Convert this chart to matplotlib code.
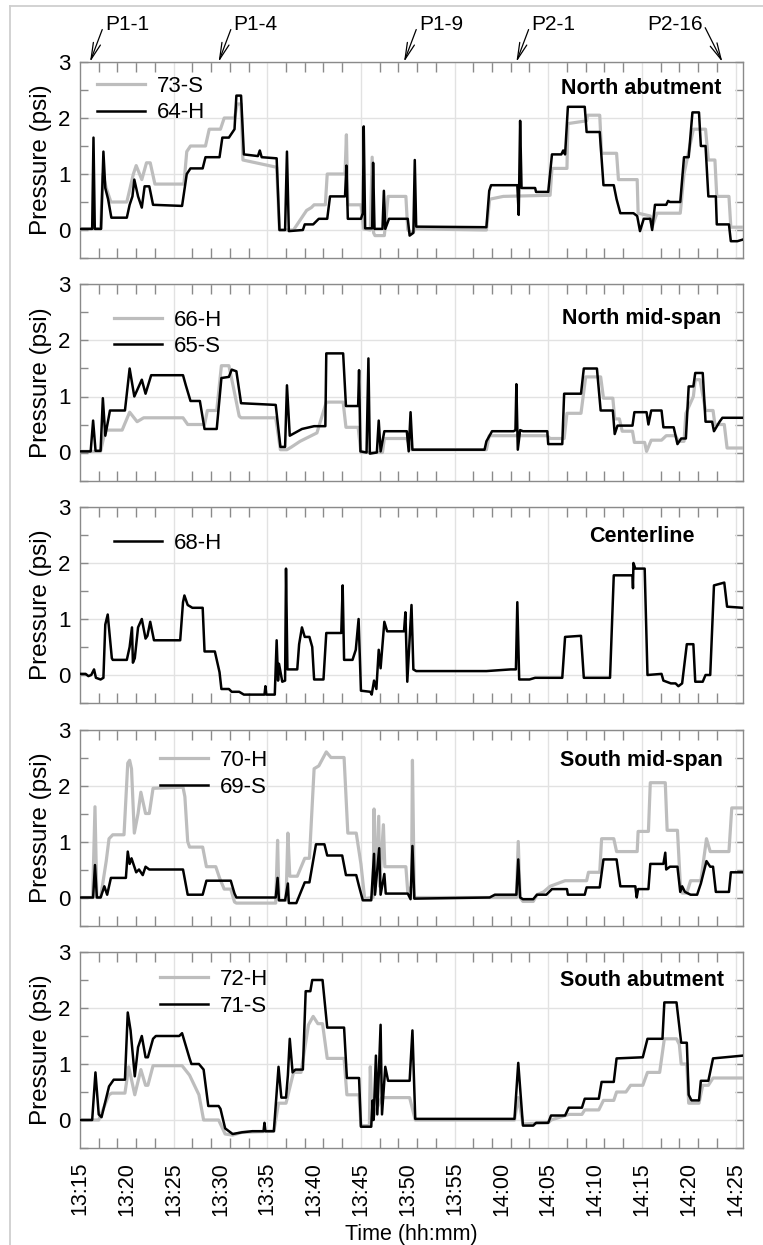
import matplotlib
matplotlib.use("Agg")
import matplotlib.pyplot as plt
from matplotlib.lines import Line2D
from matplotlib.ticker import MultipleLocator

plt.rcParams['font.family'] = ['Liberation Sans', 'DejaVu Sans']

# time in minutes after 13:15, pressure in psi
# North abutment
na_73s = [(0, 0.02), (2.2, 0.02), (2.45, 1.0), (2.8, 0.75), (3.3, 0.5), (5.0, 0.5), (5.7, 1.0), (6.0, 1.15),
          (6.6, 0.9), (7.1, 1.2), (7.5, 1.2), (8.0, 0.82), (11.1, 0.82), (11.4, 1.4), (11.8, 1.5), (13.4, 1.5),
          (13.8, 1.8), (15.0, 1.8), (15.4, 2.0), (16.5, 2.0), (16.8, 2.25), (17.2, 2.25), (17.4, 1.25),
          (21.0, 1.12), (21.3, 0.0), (22.8, 0.0), (23.2, 0.1), (24.2, 0.35), (24.7, 0.4), (25.0, 0.45),
          (26.2, 0.45), (26.4, 1.0), (28.3, 1.0), (28.45, 1.7), (28.6, 0.45), (30.0, 0.45), (30.3, 0.02),
          (31.0, 0.0), (31.2, 1.3), (31.35, -0.05), (31.5, -0.1), (32.5, -0.1), (32.9, 0.6), (34.8, 0.6),
          (35.0, 0.0), (35.5, -0.05), (35.8, 0.02), (43.4, 0.0), (43.75, 0.55), (45.2, 0.6), (50.2, 0.62),
          (50.4, 1.1), (52.0, 1.1), (52.1, 1.9), (54.1, 1.95), (54.2, 2.05), (55.5, 2.05), (55.7, 1.37),
          (57.3, 1.37), (57.5, 0.9), (59.5, 0.9), (59.6, 0.3), (60.9, 0.25), (61.1, 0.05), (61.6, 0.3),
          (64.1, 0.3), (64.5, 1.0), (65.5, 1.8), (66.8, 1.8), (67.1, 1.25), (67.8, 1.25), (68.0, 0.6),
          (69.3, 0.6), (69.5, 0.05), (70.8, 0.05)]
na_64h = [(0, 0.02), (1.3, 0.02), (1.44, 1.65), (1.58, 0.02), (2.25, 0.02), (2.5, 1.4), (2.7, 0.75),
          (3.0, 0.55), (3.35, 0.22), (5.0, 0.22), (5.3, 0.45), (5.6, 0.6), (5.8, 0.9), (6.2, 0.6), (6.6, 0.4),
          (6.9, 0.78), (7.4, 0.78), (7.8, 0.45), (10.9, 0.43), (11.4, 1.0), (11.8, 1.1), (13.1, 1.1),
          (13.4, 1.3), (14.9, 1.3), (15.2, 1.65), (15.9, 1.65), (16.5, 1.8), (16.7, 2.4), (17.2, 2.4),
          (17.5, 1.35), (19.0, 1.32), (19.2, 1.42), (19.4, 1.3), (21.0, 1.28), (21.3, 0.0), (21.9, 0.0),
          (22.1, 1.4), (22.3, -0.02), (23.8, 0.0), (24.0, 0.1), (24.9, 0.1), (25.5, 0.2), (26.4, 0.2),
          (26.7, 0.6), (28.3, 0.6), (28.45, 1.15), (28.6, 0.2), (30.0, 0.2), (30.2, 0.3), (30.3, 1.85),
          (30.45, 0.03), (31.2, 0.03), (31.3, 1.2), (31.45, 0.02), (32.3, 0.02), (32.45, 0.7), (32.6, 0.02),
          (33.0, 0.2), (35.0, 0.2), (35.2, -0.1), (35.6, -0.05), (35.75, 1.25), (35.9, 0.06), (43.4, 0.05),
          (43.7, 0.7), (43.9, 0.8), (46.7, 0.8), (46.85, 0.27), (47.0, 1.95), (47.15, 0.75), (48.6, 0.75),
          (48.7, 0.68), (50.0, 0.68), (50.4, 1.35), (51.4, 1.35), (51.6, 1.42), (51.8, 1.35), (52.1, 2.2),
          (53.9, 2.2), (54.1, 1.75), (55.5, 1.75), (55.9, 0.8), (57.0, 0.8), (57.3, 0.55), (57.7, 0.3),
          (59.1, 0.3), (59.5, 0.25), (59.8, -0.02), (60.2, 0.2), (60.9, 0.2), (61.1, 0.0), (61.4, 0.45),
          (62.6, 0.45), (62.8, 0.52), (63.0, 0.5), (64.1, 0.5), (64.5, 1.3), (65.0, 1.3), (65.4, 2.1),
          (66.1, 2.1), (66.3, 1.5), (66.8, 1.5), (67.1, 0.6), (67.9, 0.6), (68.0, 0.1), (69.3, 0.1),
          (69.5, -0.2), (70.2, -0.2), (70.8, -0.17)]

# North mid-span
nm_66h = [(0, 0.02), (2.2, 0.02), (2.7, 0.4), (4.5, 0.4), (5.3, 0.72), (6.1, 0.55), (6.8, 0.62), (11.0, 0.62),
          (11.5, 0.5), (13.3, 0.5), (13.6, 0.75), (14.6, 0.75), (15.1, 1.55), (15.9, 1.55), (16.4, 1.15),
          (17.0, 0.65), (17.2, 0.62), (20.9, 0.62), (21.4, 0.05), (22.1, 0.05), (22.6, 0.1), (23.5, 0.2),
          (25.3, 0.35), (26.3, 0.9), (28.1, 0.9), (28.4, 0.45), (29.7, 0.45), (30.0, 0.0), (32.3, 0.0),
          (32.5, 0.25), (34.9, 0.25), (35.4, 0.05), (43.4, 0.05), (43.7, 0.3), (49.9, 0.3), (50.2, 0.25),
          (51.7, 0.25), (52.0, 0.7), (53.5, 0.7), (54.0, 1.35), (55.6, 1.35), (55.9, 0.97), (56.9, 0.97),
          (57.1, 0.6), (57.6, 0.6), (57.9, 0.38), (59.0, 0.38), (59.2, 0.18), (60.3, 0.18), (60.5, 0.02),
          (61.0, 0.22), (62.1, 0.22), (62.6, 0.3), (63.6, 0.3), (63.9, 0.2), (64.5, 0.2), (64.7, 0.7),
          (65.5, 1.0), (65.7, 1.3), (66.2, 1.3), (66.8, 0.75), (67.6, 0.75), (67.8, 0.5), (68.8, 0.5),
          (69.1, 0.08), (70.8, 0.08)]
nm_65s = [(0, 0.02), (1.14, 0.02), (1.4, 0.57), (1.66, 0.03), (2.2, 0.03), (2.44, 0.97), (2.7, 0.3),
          (3.2, 0.75), (4.8, 0.75), (5.3, 1.5), (5.8, 1.0), (6.6, 1.3), (7.0, 1.05), (7.6, 1.38), (11.0, 1.38),
          (11.3, 1.2), (11.8, 0.92), (12.8, 0.92), (13.3, 0.42), (14.6, 0.42), (15.1, 1.33), (15.9, 1.35),
          (16.2, 1.48), (16.7, 1.45), (17.2, 0.88), (20.9, 0.85), (21.4, 0.1), (21.9, 0.1), (22.1, 1.2),
          (22.4, 0.3), (23.7, 0.42), (25.0, 0.47), (26.2, 0.47), (26.3, 1.77), (28.1, 1.77), (28.4, 0.83),
          (29.7, 0.83), (29.8, 1.47), (29.95, 0.02), (30.6, 0.0), (30.8, 1.68), (30.95, -0.02), (31.7, 0.0),
          (31.9, 0.57), (32.1, 0.02), (32.5, 0.38), (34.9, 0.38), (35.1, 0.02), (35.3, 0.72), (35.5, 0.05),
          (43.2, 0.05), (43.4, 0.2), (44.0, 0.38), (46.3, 0.38), (46.5, 0.4), (46.6, 1.22), (46.75, 0.05),
          (47.0, 0.4), (47.3, 0.38), (49.9, 0.38), (50.0, 0.15), (51.5, 0.15), (51.7, 1.05), (53.5, 1.05),
          (53.8, 1.5), (55.2, 1.5), (55.6, 0.75), (56.9, 0.75), (57.1, 0.33), (57.4, 0.48), (59.0, 0.48),
          (59.2, 0.72), (60.5, 0.72), (60.7, 0.5), (61.0, 0.75), (62.1, 0.75), (62.3, 0.45), (63.4, 0.45),
          (63.8, 0.15), (64.2, 0.25), (64.7, 0.25), (65.0, 1.18), (65.5, 1.18), (65.7, 1.42), (66.5, 1.42),
          (66.8, 0.55), (67.5, 0.55), (67.7, 0.38), (68.3, 0.55), (68.6, 0.62), (70.8, 0.62)]

# Centerline
cl_68h = [(0, 0.02), (0.6, 0.02), (0.9, -0.02), (1.2, 0.0), (1.5, 0.1), (1.7, -0.05), (2.2, -0.08),
          (2.5, -0.05), (2.7, 0.9), (2.96, 1.08), (3.4, 0.3), (3.5, 0.27), (5.0, 0.27), (5.3, 0.5),
          (5.55, 0.85), (5.65, 0.22), (5.85, 0.3), (6.2, 0.85), (6.6, 1.0), (7.0, 0.65), (7.2, 0.7),
          (7.5, 0.95), (7.9, 0.62), (10.7, 0.62), (11.0, 1.3), (11.15, 1.42), (11.5, 1.25), (12.0, 1.2),
          (13.1, 1.2), (13.3, 0.42), (14.4, 0.42), (14.9, 0.05), (15.1, -0.25), (15.9, -0.25), (16.2, -0.3),
          (17.0, -0.3), (17.5, -0.35), (19.7, -0.35), (19.8, -0.2), (19.9, -0.35), (20.8, -0.35),
          (21.0, 0.62), (21.15, -0.1), (21.25, 0.2), (21.6, -0.12), (21.9, -0.1), (22.0, 1.9), (22.15, 0.1),
          (23.2, 0.1), (23.4, 0.55), (23.7, 0.85), (24.0, 0.68), (24.5, 0.68), (24.8, 0.5), (25.0, -0.08),
          (26.0, -0.08), (26.3, 0.75), (27.9, 0.75), (28.05, 1.6), (28.2, 0.27), (29.1, 0.27), (29.45, 0.45),
          (29.75, 1.0), (30.0, -0.28), (31.0, -0.3), (31.15, -0.35), (31.4, -0.1), (31.65, -0.25),
          (31.9, 0.45), (32.1, 0.12), (32.5, 0.95), (32.8, 0.78), (34.6, 0.78), (34.75, 1.12),
          (34.95, -0.12), (35.4, 1.25), (35.6, 0.1), (35.9, 0.07), (43.4, 0.07), (46.0, 0.1), (46.55, 0.1),
          (46.7, 1.3), (46.9, -0.08), (48.0, -0.08), (48.6, -0.05), (51.5, -0.05), (51.8, 0.68), (53.5, 0.7),
          (53.8, -0.05), (56.6, -0.05), (57.0, 1.78), (59.0, 1.78), (59.05, 1.55), (59.1, 2.0), (59.3, 1.9),
          (60.3, 1.9), (60.6, 0.0), (62.1, 0.02), (62.3, -0.1), (63.1, -0.15), (63.6, -0.15), (63.9, -0.2),
          (64.3, -0.15), (64.8, 0.55), (65.5, 0.55), (65.7, -0.12), (66.5, -0.12), (66.8, 0.0), (67.3, 0.0),
          (67.7, 1.6), (68.8, 1.65), (69.1, 1.22), (70.8, 1.2)]

# South mid-span
sm_70h = [(0, 0.0), (1.35, 0.0), (1.6, 1.62), (1.8, 0.0), (2.2, 0.0), (2.8, 0.65), (3.1, 1.05), (3.5, 1.12),
          (4.7, 1.12), (5.1, 2.4), (5.3, 2.45), (5.5, 2.3), (5.8, 1.15), (6.2, 1.5), (6.5, 1.88), (7.0, 1.5),
          (7.4, 1.5), (7.8, 1.95), (11.0, 1.97), (11.2, 1.8), (11.5, 1.0), (11.7, 0.9), (13.1, 0.9),
          (13.5, 0.55), (14.5, 0.55), (14.9, 0.35), (15.4, 0.15), (16.1, 0.15), (16.5, -0.08), (16.7, -0.1),
          (20.9, -0.1), (21.1, 1.02), (21.25, -0.05), (22.0, -0.05), (22.2, 1.15), (22.4, 0.38),
          (23.2, 0.38), (24.0, 0.7), (24.5, 0.7), (25.0, 2.3), (25.5, 2.35), (26.3, 2.6), (26.8, 2.5),
          (28.2, 2.5), (28.6, 1.15), (29.5, 1.15), (30.0, 0.6), (30.4, -0.02), (31.3, 0.0), (31.4, 1.58),
          (31.5, 0.1), (31.9, 1.45), (32.0, 0.2), (32.4, 1.3), (32.55, 0.55), (34.8, 0.55), (35.0, 0.1),
          (35.4, 0.2), (35.5, 2.45), (35.7, 0.0), (46.6, 0.0), (46.8, 1.0), (47.0, 0.0), (47.3, -0.07),
          (48.4, -0.07), (48.8, 0.05), (49.5, 0.1), (50.2, 0.2), (51.8, 0.3), (54.1, 0.3), (54.3, 0.45),
          (55.5, 0.45), (55.7, 1.05), (57.0, 1.05), (57.3, 0.82), (59.5, 0.82), (59.6, 1.18), (60.7, 1.18),
          (60.9, 2.05), (62.5, 2.05), (62.7, 1.2), (63.8, 1.2), (64.1, 0.25), (64.3, 0.08), (64.8, 0.08),
          (65.2, 0.3), (66.3, 0.3), (66.9, 1.05), (67.3, 0.82), (69.3, 0.82), (69.6, 1.6), (70.8, 1.6)]
sm_69s = [(0, 0.0), (1.4, 0.0), (1.6, 0.58), (1.8, 0.0), (2.2, 0.0), (2.6, 0.2), (2.9, 0.05), (3.3, 0.35),
          (4.9, 0.35), (5.1, 0.82), (5.3, 0.6), (5.5, 0.7), (6.0, 0.45), (6.3, 0.5), (6.7, 0.4), (7.0, 0.55),
          (7.4, 0.5), (11.0, 0.5), (11.5, 0.05), (13.1, 0.05), (13.5, 0.3), (16.1, 0.3), (16.5, 0.07),
          (16.7, 0.0), (20.9, 0.0), (21.1, 0.35), (21.25, -0.05), (21.9, -0.05), (22.2, 0.25), (22.3, -0.1),
          (23.1, -0.1), (24.0, 0.27), (24.5, 0.27), (25.2, 0.95), (26.1, 0.95), (26.4, 0.75), (28.0, 0.75),
          (28.4, 0.4), (29.5, 0.4), (29.8, 0.2), (30.2, -0.05), (31.1, -0.05), (31.4, 0.78), (31.5, 0.05),
          (31.95, 0.88), (32.1, 0.05), (32.5, 0.42), (32.65, 0.07), (35.0, 0.07), (35.3, -0.03),
          (35.5, 0.92), (35.7, -0.02), (43.75, 0.0), (44.3, 0.05), (46.6, 0.05), (46.8, 0.68), (47.0, 0.0),
          (47.3, -0.03), (48.4, -0.03), (48.8, 0.05), (49.8, 0.05), (50.4, 0.15), (52.0, 0.15), (52.1, 0.05),
          (53.9, 0.05), (54.1, 0.18), (55.5, 0.18), (55.9, 0.68), (57.3, 0.68), (57.7, 0.2), (59.3, 0.2),
          (59.45, 0.0), (59.6, 0.15), (60.7, 0.15), (60.9, 0.6), (62.3, 0.6), (62.5, 0.8), (62.6, 0.5),
          (63.0, 0.55), (63.8, 0.55), (64.1, 0.1), (64.3, 0.2), (64.6, 0.1), (65.2, 0.05), (65.9, 0.05),
          (66.3, 0.25), (66.9, 0.65), (67.3, 0.55), (67.6, 0.55), (67.9, 0.1), (69.3, 0.1), (69.5, 0.45),
          (70.8, 0.45)]

# South abutment
sa_72h = [(0, 0.0), (2.0, 0.0), (3.1, 0.45), (3.4, 0.48), (4.8, 0.48), (5.2, 0.95), (5.85, 0.45), (6.5, 0.9),
          (7.0, 0.62), (7.25, 0.62), (7.8, 0.97), (10.9, 0.97), (11.7, 0.8), (12.7, 0.45), (13.2, 0.0),
          (14.8, 0.0), (15.5, -0.25), (16.3, -0.27), (17.3, -0.22), (20.7, -0.2), (21.2, 0.3), (22.0, 0.3),
          (22.8, 0.85), (23.6, 0.85), (24.4, 1.7), (24.9, 1.85), (25.4, 1.72), (25.9, 1.72), (26.4, 1.1),
          (28.2, 1.1), (28.5, 0.45), (29.8, 0.45), (30.0, -0.1), (30.9, -0.1), (31.0, 0.95), (31.2, 0.0),
          (32.2, 0.4), (35.2, 0.4), (35.8, 0.0), (46.4, 0.0), (46.8, 0.4), (47.3, -0.07), (50.0, -0.05),
          (50.3, 0.0), (52.2, 0.1), (53.6, 0.1), (53.9, 0.18), (55.4, 0.18), (55.9, 0.35), (57.0, 0.35),
          (57.3, 0.5), (58.3, 0.5), (58.8, 0.62), (60.1, 0.62), (60.6, 0.85), (61.9, 0.85), (62.4, 1.45),
          (63.7, 1.45), (64.0, 1.35), (64.2, 1.0), (64.8, 1.0), (65.0, 0.3), (66.1, 0.3), (66.5, 0.62),
          (67.1, 0.62), (67.6, 0.75), (70.8, 0.75)]
sa_71s = [(0, 0.0), (1.3, 0.0), (1.65, 0.85), (2.0, 0.1), (2.3, 0.05), (3.1, 0.6), (3.6, 0.72), (4.8, 0.72),
          (5.1, 1.92), (5.4, 1.6), (5.85, 0.78), (6.2, 1.3), (6.6, 1.5), (7.0, 1.12), (7.25, 1.12),
          (7.8, 1.45), (8.1, 1.5), (10.6, 1.5), (10.9, 1.55), (11.7, 1.1), (11.9, 1.0), (12.7, 1.0),
          (13.2, 0.9), (13.7, 0.25), (14.8, 0.25), (15.0, 0.2), (15.5, -0.15), (16.3, -0.25), (17.3, -0.22),
          (18.4, -0.2), (19.6, -0.2), (19.7, -0.05), (19.8, -0.2), (20.7, -0.2), (21.2, 0.95), (21.5, 0.4),
          (22.0, 0.4), (22.2, 0.8), (22.4, 1.45), (22.7, 0.85), (23.0, 0.9), (23.8, 0.9), (24.1, 2.3),
          (24.6, 2.3), (24.8, 2.5), (25.9, 2.5), (26.4, 1.65), (28.2, 1.65), (28.5, 0.75), (29.8, 0.75),
          (30.0, -0.12), (31.1, -0.12), (31.25, 0.35), (31.35, 0.0), (31.6, 1.15), (31.75, 0.1),
          (32.1, 1.7), (32.25, 0.1), (32.6, 0.95), (32.9, 0.7), (35.2, 0.7), (35.5, 1.6), (35.8, 0.02),
          (46.4, 0.02), (46.8, 1.02), (47.3, -0.1), (48.4, -0.1), (48.7, -0.05), (50.0, -0.05), (50.3, 0.08),
          (51.8, 0.08), (52.2, 0.22), (53.6, 0.22), (53.9, 0.38), (55.4, 0.38), (55.7, 0.68), (57.0, 0.68),
          (57.3, 1.1), (60.1, 1.12), (60.6, 1.45), (62.2, 1.45), (62.4, 2.1), (63.7, 2.1), (64.2, 1.38),
          (64.8, 1.38), (65.0, 0.45), (65.3, 0.35), (66.1, 0.35), (66.3, 0.7), (67.1, 0.7), (67.6, 1.1),
          (70.8, 1.15)]

panel_titles = ['North abutment', 'North mid-span', 'Centerline', 'South mid-span', 'South abutment']
panel_gray = [('73-S', na_73s), ('66-H', nm_66h), None, ('70-H', sm_70h), ('72-H', sa_72h)]
panel_black = [('64-H', na_64h), ('65-S', nm_65s), ('68-H', cl_68h), ('69-S', sm_69s), ('71-S', sa_71s)]

time_labels = ['13:15', '13:20', '13:25', '13:30', '13:35', '13:40', '13:45', '13:50', '13:55',
               '14:00', '14:05', '14:10', '14:15', '14:20', '14:25']
events = ['P1-1', 'P1-4', 'P1-9', 'P2-1', 'P2-16']
event_times = [1.07, 14.8, 34.6, 46.6, 68.6]

# legend anchors and title heights (axes fraction), one per panel
leg_anchor = [(0.026, 0.929), (0.051, 0.872), (0.051, 0.867), (0.121, 0.895), (0.121, 0.913)]
title_y = [0.867, 0.827, 0.847, 0.842, 0.857]

W, H = 763, 1245
fig = plt.figure(figsize=(W / 100, H / 100), dpi=100)

left, width, height = 80 / W, 663 / W, 196 / H
tops = [62, 284.5, 507, 729.5, 952]
spine_col = '#8a8a8a'
grid_col = '#e2e2e2'

axes = []
for i, top in enumerate(tops):
    ax = fig.add_axes([left, 1 - (top + 196) / H, width, height])
    axes.append(ax)

    if panel_gray[i] is not None:
        lab, pts = panel_gray[i]
        t, v = zip(*pts)
        ax.plot(t, v, color='#bdbdbd', lw=2.3, label=lab, zorder=3)
    lab, pts = panel_black[i]
    t, v = zip(*pts)
    ax.plot(t, v, color='black', lw=1.8, label=lab, zorder=4)

    ax.set_xlim(0, 70.8)
    ax.set_ylim(-0.5, 3)

    ax.set_xticks(range(0, 71, 5))
    ax.xaxis.set_minor_locator(MultipleLocator(2))
    ax.set_yticks([0, 1, 2, 3])
    ax.yaxis.set_minor_locator(MultipleLocator(0.5))
    ax.tick_params(axis='x', which='major', length=0, pad=10, labelsize=15.5)
    ax.tick_params(axis='x', which='minor', length=7, direction='in', top=True, bottom=True,
                   color=spine_col, width=1)
    ax.tick_params(axis='y', which='both', length=6, direction='in', left=True, right=True,
                   color=spine_col, width=1, pad=7, labelsize=16)

    for t10 in range(10, 71, 10):
        ax.axvline(t10, color=grid_col, lw=1, zorder=1)
    ax.yaxis.grid(True, color=grid_col, lw=1, zorder=1)
    ax.set_axisbelow(True)

    for s in ax.spines.values():
        s.set_color(spine_col)
        s.set_linewidth(1)

    ax.set_ylabel('Pressure (psi)', fontsize=17.5, labelpad=4)
    ax.text(0.847, title_y[i], panel_titles[i], transform=ax.transAxes, ha='center', va='center',
            fontsize=15.5, fontweight='bold')
    ax.legend(loc='upper left', bbox_to_anchor=leg_anchor[i], frameon=False, fontsize=16,
              handlelength=2.15, handletextpad=0.55, labelspacing=0.25, borderpad=0, borderaxespad=0)

    if i < 4:
        ax.tick_params(axis='x', labelbottom=False)
    else:
        ax.set_xticklabels(time_labels, rotation=90)
        ax.set_xlabel('Time (hh:mm)', fontsize=15.5, labelpad=6)

# event markers above the top panel
for name, te in zip(events, event_times):
    if name == 'P2-16':
        off, ha, rel = (-20, 37), 'right', (1, 0.65)
    else:
        off, ha, rel = (15, 37), 'left', (0, 0.65)
    axes[0].annotate(name, xy=(te, 3), xycoords='data', xytext=off, textcoords='offset pixels',
                     ha=ha, va='center', fontsize=15, annotation_clip=False,
                     arrowprops=dict(arrowstyle='->,head_length=0.8,head_width=0.18', color='black',
                                     lw=0.9, shrinkA=0, shrinkB=0, relpos=rel))

# light frame on the left and top of the figure
fig.add_artist(Line2D([10 / W, 10 / W], [0, 1 - 6 / H], transform=fig.transFigure, color='#cfcfcf', lw=1.3))
fig.add_artist(Line2D([10 / W, 1], [1 - 6 / H, 1 - 6 / H], transform=fig.transFigure, color='#cfcfcf', lw=1.3))

fig.savefig('out.png', dpi=100)
